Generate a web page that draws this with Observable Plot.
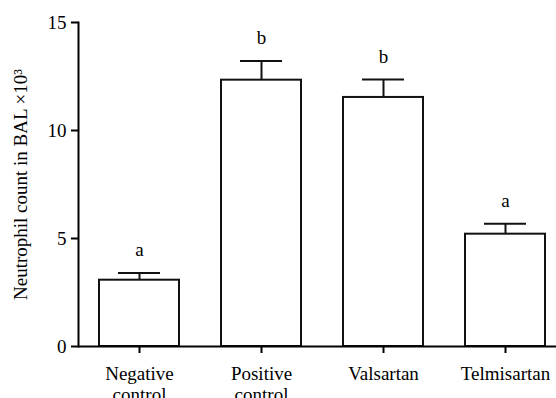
<!DOCTYPE html>
<html>
<head>
<meta charset="utf-8">
<script src="https://cdn.jsdelivr.net/npm/d3@7"></script>
<script src="https://cdn.jsdelivr.net/npm/@observablehq/plot@0.6"></script>
<style>
  html, body { margin: 0; padding: 0; background: #fff; }
  #chart svg { display: block; }
</style>
</head>
<body>
<div id="chart"></div>
<script>
const groups = ["Negative\ncontrol", "Positive\ncontrol", "Valsartan", "Telmisartan"];
const means = [3.07, 12.33, 11.53, 5.20];
const errors = [0.33, 0.89, 0.83, 0.48];
const letters = ["a", "b", "b", "a"];
const yTicks = [0, 5, 10, 15];

const data = groups.map((g, i) => ({
  group: g,
  value: means[i],
  upper: means[i] + errors[i],
  letter: letters[i]
}));

const serif = "Liberation Serif";

const chart = Plot.plot({
  width: 556,
  height: 398,
  marginLeft: 78,
  marginRight: 0,
  marginTop: 22,
  marginBottom: 52,
  style: "font-family: 'Liberation Serif', serif; font-size: 19px; color: #000; background: #fff;",
  x: { domain: groups, range: [78, 566], padding: 0 },
  y: { domain: [0, 15] },
  marks: [
    Plot.ruleX(data, { x: "group", y1: "value", y2: "upper", stroke: "#111", strokeWidth: 2 }),
    Plot.tickY(data, { x: "group", y: "upper", inset: 40, stroke: "#111", strokeWidth: 2 }),
    Plot.barY(data, { x: "group", y: "value", fill: "#fff", stroke: "#111", strokeWidth: 2, insetLeft: 21, insetRight: 21 }),
    Plot.text(data, { x: "group", y: "upper", text: "letter", dy: -23, fontSize: 19, fontFamily: serif, fill: "#000" }),
    Plot.ruleY([0], { stroke: "#000", strokeWidth: 2 }),
    Plot.frame({ anchor: "left", stroke: "#000", strokeWidth: 2 }),
    Plot.axisY({
      ticks: yTicks,
      tickSize: 7,
      tickPadding: 5,
      strokeWidth: 2,
      fontSize: 19,
      fontFamily: serif,
      label: "Neutrophil count in BAL ×10³",
      labelAnchor: "center",
      labelArrow: "none",
      labelOffset: 65
    }),
    Plot.axisX({
      tickSize: 7,
      tickPadding: 12,
      strokeWidth: 2,
      fontSize: 19,
      fontFamily: serif,
      lineHeight: 1.1,
      label: null
    })
  ]
});
document.getElementById("chart").appendChild(chart);
</script>
</body>
</html>
